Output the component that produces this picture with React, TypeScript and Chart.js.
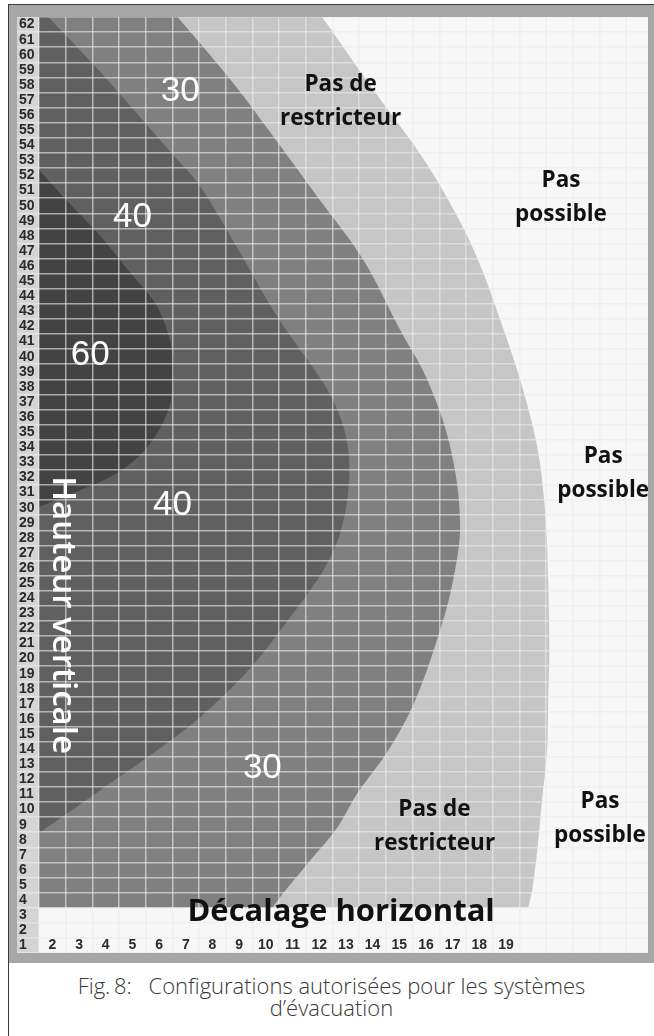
import React, { useEffect, useRef } from 'react';
import { Chart, registerables } from 'chart.js';

Chart.register(...registerables);

// ---- axes ----
const Y_TICKS = [1, 2, 3, 4, 5, 6, 7, 8, 9, 10, 11, 12, 13, 14, 15, 16, 17, 18, 19, 20, 21, 22, 23, 24, 25, 26, 27, 28, 29, 30, 31, 32, 33, 34, 35, 36, 37, 38, 39, 40, 41, 42, 43, 44, 45, 46, 47, 48, 49, 50, 51, 52, 53, 54, 55, 56, 57, 58, 59, 60, 61, 62];
const X_TICKS = [2, 3, 4, 5, 6, 7, 8, 9, 10, 11, 12, 13, 14, 15, 16, 17, 18, 19, 20, 21, 22, 23, 24];
const X_LABELS = ['2', '3', '4', '5', '6', '7', '8', '9', '10', '11', '12', '13', '14', '15', '16', '17', '18', '19'];
const X_MIN = 1.5;
const X_MAX = 24.32;
const Y_MIN = 0.5;
const Y_MAX = 62.5;

// ---- zone boundaries (horizontal offset reached at each vertical height) ----
const ZONE_NR_Y = [3.5, 4.65, 7.3, 10.62, 13.93, 17.25, 20.56, 25.2, 29.65, 34.02, 38.47, 42.45, 46.42, 49.54, 53.25, 57.5, 62.5];
const ZONE_NR_X = [19.83, 19.98, 20.17, 20.35, 20.54, 20.58, 20.62, 20.58, 20.47, 20.17, 19.53, 18.78, 17.95, 17.1, 15.85, 14.1, 12.11];

const ZONE_30_Y = [3.5, 4.45, 6.64, 8.82, 11.08, 13.93, 17.25, 21.89, 25.2, 28.98, 34.02, 38.47, 41.78, 46.42, 50.6, 54.85, 58.36, 62.5];
const ZONE_30_X = [10.24, 10.65, 11.67, 12.68, 13.43, 14.59, 15.6, 16.53, 17.02, 17.28, 16.91, 16.05, 15.03, 13.65, 11.93, 10.17, 8.67, 6.69];

const ZONE_40_Y = [8.43, 11.74, 13.93, 16.12, 19.37, 23.02, 25.2, 27.39, 29.65, 31.84, 33.82, 36.01, 38.27, 42.64, 47.22, 51.28, 53.72, 56.37, 59.22, 62.5];
const ZONE_40_X = [1.5, 4.17, 5.93, 7.54, 9.42, 11.03, 11.93, 12.6, 12.97, 13.12, 13.09, 12.79, 12.15, 10.43, 8.93, 7.54, 6.35, 5.04, 3.61, 1.85];

const ZONE_60_Y = [30.05, 30.97, 32.3, 34.02, 36.28, 38.27, 40.46, 43.31, 45.56, 48.21, 50.6, 52.39];
const ZONE_60_X = [1.5, 2.79, 4.43, 5.56, 6.31, 6.53, 6.49, 5.93, 4.92, 3.69, 2.41, 1.5];

// ---- texts placed in the chart (data coordinates) ----
const ZONE_VALUES = ['30', '40', '60', '40', '30'];
const ZONE_VALUE_X = [6.79, 5.0, 3.42, 6.5, 9.87];
const ZONE_VALUE_Y = [57.56, 49.2, 40.12, 30.18, 12.74];

const NOTES = [['Pas de', 'restricteur'], ['Pas', 'possible'], ['Pas', 'possible'], ['Pas de', 'restricteur'], ['Pas', 'possible']];
const NOTE_X = [12.8, 21.06, 22.64, 16.32, 22.52];
const NOTE_Y = [56.9, 50.54, 32.23, 8.89, 9.42];

const Y_TITLE = 'Hauteur verticale';
const Y_TITLE_POS = [2.38, 22.88];
const X_TITLE = 'Décalage horizontal';
const X_TITLE_POS = [12.82, 3.19];

const CAPTION_1 = 'Fig.\u20098:\u2002 Configurations autorisées pour les systèmes';
const CAPTION_2 = 'd’évacuation';

const GRID = 'rgba(236,236,236,0.62)';

const bgPlugin = {
  id: 'bgPlugin',
  beforeDraw(chart: any) {
    const { ctx, chartArea: a, height } = chart;
    ctx.save();
    ctx.fillStyle = '#d4d4d4';
    ctx.fillRect(0, 0, a.left, height);
    ctx.fillStyle = '#f7f7f7';
    ctx.fillRect(a.left, a.top, a.right - a.left, a.bottom - a.top);
    ctx.restore();
  },
};

const textPlugin = {
  id: 'textPlugin',
  afterDraw(chart: any) {
    const { ctx } = chart;
    const xs = chart.scales.x;
    const ys = chart.scales.y;
    ctx.save();
    ctx.textAlign = 'center';
    ctx.textBaseline = 'middle';
    // zone values
    ctx.fillStyle = '#ffffff';
    ctx.font = '35px "Liberation Sans", Arial, sans-serif';
    ZONE_VALUES.forEach((t, i) => {
      ctx.fillText(t, xs.getPixelForValue(ZONE_VALUE_X[i]), ys.getPixelForValue(ZONE_VALUE_Y[i]));
    });
    // notes
    ctx.fillStyle = '#111111';
    ctx.font = 'bold 22.5px "Open Sans", sans-serif';
    NOTES.forEach((lines, i) => {
      const cx = xs.getPixelForValue(NOTE_X[i]);
      const cy = ys.getPixelForValue(NOTE_Y[i]);
      const lh = 34;
      lines.forEach((l, j) => {
        ctx.fillText(l, cx, cy + (j - (lines.length - 1) / 2) * lh);
      });
    });
    // x title
    ctx.font = 'bold 31px "Open Sans", sans-serif';
    ctx.fillText(X_TITLE, xs.getPixelForValue(X_TITLE_POS[0]), ys.getPixelForValue(X_TITLE_POS[1]));
    // y title rotated
    ctx.save();
    ctx.translate(xs.getPixelForValue(Y_TITLE_POS[0]), ys.getPixelForValue(Y_TITLE_POS[1]));
    ctx.rotate(Math.PI / 2);
    ctx.fillStyle = '#ffffff';
    ctx.font = '600 33px "Open Sans", sans-serif';
    ctx.fillText(Y_TITLE, 0, 0);
    ctx.restore();
    ctx.restore();
  },
};

function zone(xsArr: number[], ysArr: number[], color: string) {
  return {
    data: ysArr.map((y, i) => ({ x: xsArr[i], y })),
    backgroundColor: color,
    borderColor: 'rgba(0,0,0,0)',
    borderWidth: 0,
    pointRadius: 0,
    tension: 0.35,
    fill: { value: X_MIN },
  };
}

const tickFont = { family: '"Liberation Sans", Arial, sans-serif', size: 14, weight: 'bold' as const };

export default function App() {
  const ref = useRef<HTMLCanvasElement | null>(null);
  useEffect(() => {
    if (!ref.current) return;
    const chart = new Chart(ref.current, {
      type: 'line',
      data: {
        datasets: [
          zone(ZONE_60_X, ZONE_60_Y, '#434343'),
          zone(ZONE_40_X, ZONE_40_Y, '#606060'),
          zone(ZONE_30_X, ZONE_30_Y, '#808080'),
          zone(ZONE_NR_X, ZONE_NR_Y, '#c6c6c6'),
        ] as any,
      },
      options: {
        indexAxis: 'y',
        animation: false,
        responsive: true,
        maintainAspectRatio: false,
        events: [],
        layout: { padding: { left: 2, right: 0, top: 0, bottom: 0 } },
        plugins: {
          legend: { display: false },
          tooltip: { enabled: false },
        },
        scales: {
          x: {
            type: 'linear',
            min: X_MIN,
            max: X_MAX,
            position: 'bottom',
            afterBuildTicks: (s: any) => {
              s.ticks = X_TICKS.map((v) => ({ value: v }));
            },
            afterFit: (s: any) => {
              s.height = 0;
              s.paddingLeft = 0;
              s.paddingRight = 0;
            },
            border: { display: false },
            grid: { offset: true, drawTicks: false, color: GRID, lineWidth: 1.5, z: 1 },
            ticks: {
              autoSkip: false,
              maxRotation: 0,
              minRotation: 0,
              mirror: true,
              padding: -0.5,
              color: '#2a2a2a',
              font: tickFont,
              callback: (_v: any, i: number) => X_LABELS[i] ?? '',
            },
          },
          y: {
            type: 'linear',
            min: Y_MIN,
            max: Y_MAX,
            position: 'left',
            afterBuildTicks: (s: any) => {
              s.ticks = Y_TICKS.map((v) => ({ value: v }));
            },
            afterFit: (s: any) => {
              s.width = 20;
              s.paddingTop = 0;
              s.paddingBottom = 0;
            },
            border: { display: false },
            grid: { offset: true, drawTicks: true, tickLength: 22, color: GRID, lineWidth: 1.5, z: 1 },
            ticks: {
              autoSkip: false,
              crossAlign: 'far',
              padding: 0,
              color: '#2a2a2a',
              font: tickFont,
              callback: (_v: any, i: number) => String(Y_TICKS[i]),
            },
          },
        },
      } as any,
      plugins: [bgPlugin, textPlugin],
    });
    return () => chart.destroy();
  }, []);

  return (
    <>
      <style>{'html,body{margin:0;padding:0;overflow:hidden;background:#fff}'}</style>
      <div
        style={{
          position: 'absolute',
          left: 8,
          top: 4,
          width: 646,
          height: 1032,
          boxSizing: 'border-box',
          borderLeft: '1px solid #3a3a3a',
          borderTop: '1px solid #3a3a3a',
          background: '#fff',
        }}
      >
        <div style={{ background: '#a7a7a7', paddingTop: 12, paddingLeft: 8, paddingRight: 6, paddingBottom: 10 }}>
          <div style={{ position: 'relative', width: 631, height: 936 }}>
            <canvas ref={ref} />
          </div>
        </div>
        <div
          style={{
            paddingTop: 11,
            textAlign: 'center',
            fontFamily: '"Open Sans", "Noto Sans", sans-serif',
            fontWeight: 300,
            fontSize: 22,
            lineHeight: '22px',
            color: '#383838',
          }}
        >
          {CAPTION_1}
          <br />
          {CAPTION_2}
        </div>
      </div>
    </>
  );
}
